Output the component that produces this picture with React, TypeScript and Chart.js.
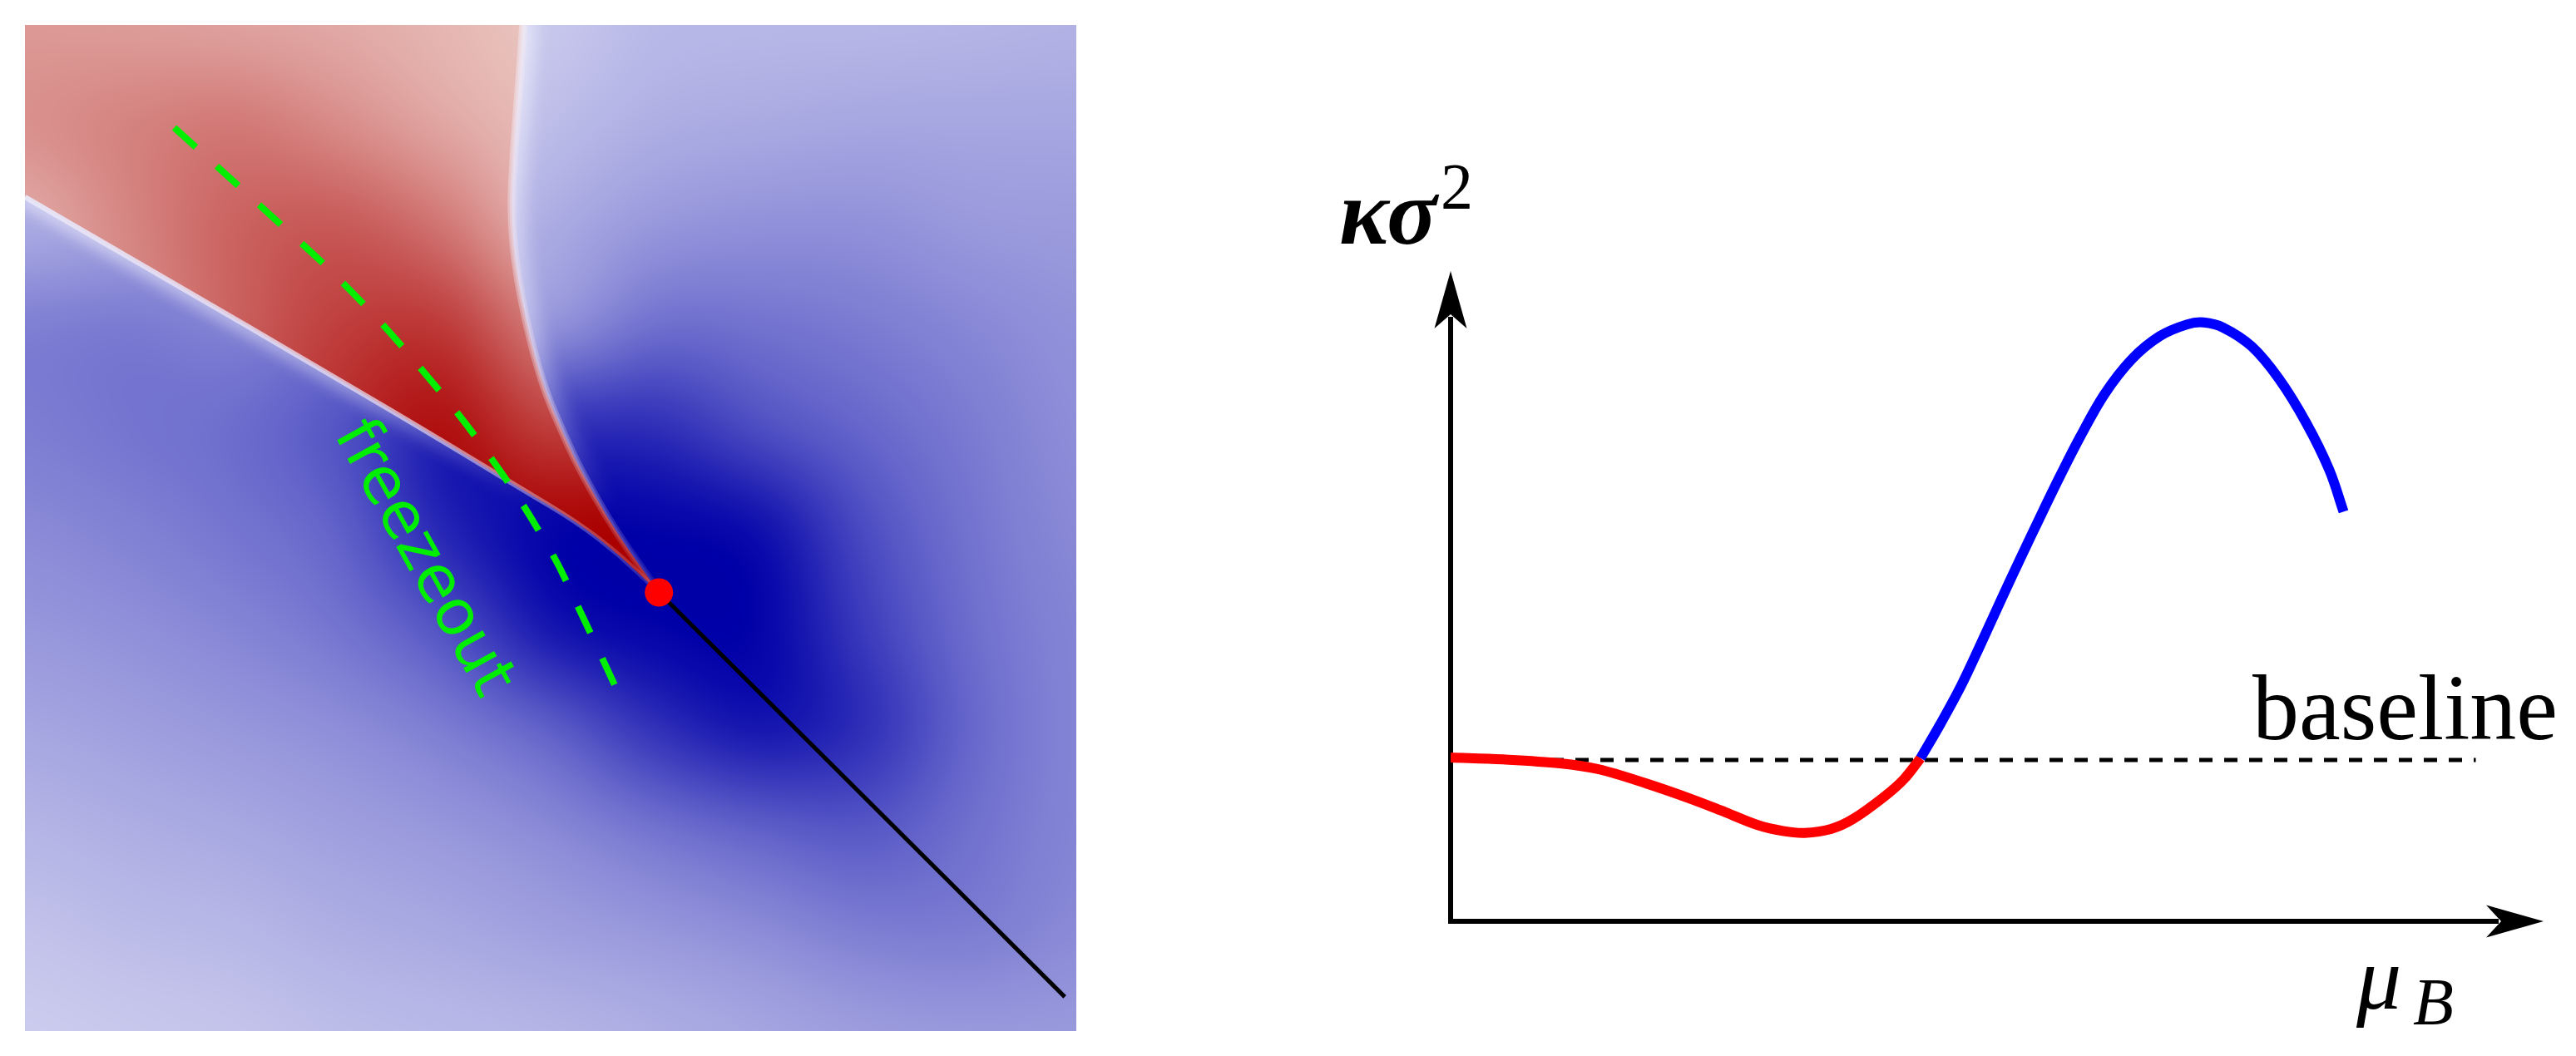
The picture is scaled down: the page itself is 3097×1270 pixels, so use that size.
import React, { useEffect, useRef } from "react";
import { Chart, registerables } from "chart.js";

Chart.register(...registerables);

// ---------------- Left panel: map around the critical point ----------------
// grid nodes (percent of the map width / height, v measured from the top)
const GRID_U = [0, 10, 20, 30, 40, 50, 60, 70, 80, 90, 100];
const GRID_V = [0, 10, 20, 30, 40, 50, 60, 70, 80, 90, 100];

// blue intensity (0 = pale lavender, 1 = deep blue), rows = GRID_V, cols = GRID_U
const BLUE_LEVEL = [
  [0.2, 0.2, 0.15, 0.1, 0.05, 0.07, 0.14, 0.15, 0.15, 0.16, 0.17],
  [0.2, 0.2, 0.15, 0.1, 0.05, 0.12, 0.19, 0.21, 0.23, 0.23, 0.23],
  [0.2, 0.24, 0.25, 0.2, 0.1, 0.2, 0.3, 0.33, 0.33, 0.29, 0.28],
  [0.42, 0.44, 0.4, 0.45, 0.3, 0.3, 0.49, 0.47, 0.43, 0.37, 0.32],
  [0.42, 0.46, 0.5, 0.62, 0.88, 0.8, 0.8, 0.63, 0.52, 0.43, 0.34],
  [0.36, 0.4, 0.46, 0.55, 0.85, 1.0, 1.0, 0.95, 0.64, 0.46, 0.36],
  [0.3, 0.33, 0.38, 0.46, 0.62, 0.92, 1.0, 1.0, 0.72, 0.49, 0.38],
  [0.23, 0.26, 0.3, 0.34, 0.42, 0.55, 0.78, 0.92, 0.8, 0.52, 0.38],
  [0.16, 0.19, 0.22, 0.26, 0.3, 0.36, 0.46, 0.55, 0.6, 0.48, 0.38],
  [0.1, 0.13, 0.15, 0.19, 0.22, 0.26, 0.3, 0.35, 0.42, 0.43, 0.36],
  [0.05, 0.07, 0.09, 0.12, 0.14, 0.16, 0.19, 0.23, 0.27, 0.29, 0.29],
];

// red intensity inside the wedge (0 = pale pink, 1 = deep red)
const RED_LEVEL = [
  [0.29, 0.27, 0.24, 0.21, 0.15, 0.08, 0.08, 0.08, 0.08, 0.08, 0.08],
  [0.33, 0.4, 0.45, 0.35, 0.22, 0.12, 0.12, 0.12, 0.12, 0.12, 0.12],
  [0.2, 0.38, 0.55, 0.6, 0.45, 0.15, 0.15, 0.15, 0.15, 0.15, 0.15],
  [0.25, 0.35, 0.55, 0.72, 0.75, 0.4, 0.4, 0.4, 0.4, 0.4, 0.4],
  [0.3, 0.4, 0.6, 0.8, 0.95, 0.7, 0.8, 0.8, 0.8, 0.8, 0.8],
  [0.35, 0.45, 0.65, 0.85, 0.98, 1.0, 1.0, 1.0, 1.0, 1.0, 1.0],
  [1, 1, 1, 1, 1, 1, 1, 1, 1, 1, 1],
  [1, 1, 1, 1, 1, 1, 1, 1, 1, 1, 1],
  [1, 1, 1, 1, 1, 1, 1, 1, 1, 1, 1],
  [1, 1, 1, 1, 1, 1, 1, 1, 1, 1, 1],
  [1, 1, 1, 1, 1, 1, 1, 1, 1, 1, 1],
];

// lower edge of the red wedge, from the left border to the critical point
const WEDGE_LOWER = [
  { x: 0, y: 17.1 },
  { x: 13.4, y: 25.2 },
  { x: 29.3, y: 34.9 },
  { x: 39.8, y: 41.4 },
  { x: 47.2, y: 46.1 },
  { x: 52.5, y: 49.4 },
  { x: 56.6, y: 52.7 },
  { x: 60.3, y: 56.4 },
];
// upper edge of the red wedge, from the top border to the critical point
const WEDGE_UPPER = [
  { x: 47.4, y: 0 },
  { x: 47.1, y: 4.9 },
  { x: 46.5, y: 12.3 },
  { x: 46.2, y: 19.7 },
  { x: 47.1, y: 27.0 },
  { x: 49.1, y: 35.5 },
  { x: 51.4, y: 41.1 },
  { x: 53.0, y: 44.6 },
  { x: 56.2, y: 50.4 },
  { x: 60.3, y: 56.4 },
];

const CRITICAL_POINT = [{ x: 60.3, y: 56.4 }];
const CROSSOVER_LINE = [
  { x: 60.3, y: 56.4 },
  { x: 98.9, y: 96.6 },
];
const FREEZEOUT_LINE = [
  { x: 14.2, y: 10.2 },
  { x: 22.3, y: 17.9 },
  { x: 30.3, y: 25.7 },
  { x: 37.7, y: 34.2 },
  { x: 44.5, y: 43.3 },
  { x: 49.9, y: 52.1 },
  { x: 53.0, y: 58.7 },
  { x: 56.4, y: 66.3 },
];
const FREEZEOUT_LABEL = "freezeout";
const FREEZEOUT_LABEL_AT = { x: 37.9, y: 53.0, angle: 61 };

// ---------------- Right panel: kappa sigma^2 vs mu_B ----------------
const RED_BRANCH = [
  { x: 0, y: 2.52 },
  { x: 0.48, y: 2.49 },
  { x: 1.0, y: 2.43 },
  { x: 1.35, y: 2.34 },
  { x: 1.79, y: 2.12 },
  { x: 2.22, y: 1.87 },
  { x: 2.51, y: 1.68 },
  { x: 2.81, y: 1.48 },
  { x: 3.04, y: 1.39 },
  { x: 3.24, y: 1.36 },
  { x: 3.48, y: 1.42 },
  { x: 3.68, y: 1.57 },
  { x: 3.97, y: 1.92 },
  { x: 4.15, y: 2.19 },
  { x: 4.3, y: 2.51 },
];
const BLUE_BRANCH = [
  { x: 4.3, y: 2.51 },
  { x: 4.48, y: 3.03 },
  { x: 4.67, y: 3.62 },
  { x: 4.85, y: 4.26 },
  { x: 5.03, y: 4.92 },
  { x: 5.21, y: 5.57 },
  { x: 5.4, y: 6.24 },
  { x: 5.58, y: 6.86 },
  { x: 5.76, y: 7.45 },
  { x: 5.98, y: 8.1 },
  { x: 6.23, y: 8.64 },
  { x: 6.49, y: 9.0 },
  { x: 6.74, y: 9.18 },
  { x: 6.89, y: 9.21 },
  { x: 7.07, y: 9.13 },
  { x: 7.33, y: 8.84 },
  { x: 7.58, y: 8.34 },
  { x: 7.83, y: 7.66 },
  { x: 8.04, y: 6.94 },
  { x: 8.17, y: 6.3 },
];
const BASELINE = [
  { x: 0, y: 2.48 },
  { x: 9.38, y: 2.48 },
];
const BASELINE_LABEL = "baseline";

// ---------------- helpers ----------------
const BLUE_LIGHT = [215, 215, 242];
const BLUE_DARK = [0, 0, 168];
const RED_LIGHT = [240, 215, 210];
const RED_DARK = [170, 0, 0];

function mix(a: number[], b: number[], t: number) {
  return a.map((v, k) => Math.round(v + (b[k] - v) * t));
}

function gridImage(levels: number[][], lo: number[], hi: number[]) {
  const m = levels.length;
  const n = levels[0].length;
  const c = document.createElement("canvas");
  c.width = n;
  c.height = m;
  const g = c.getContext("2d")!;
  const img = g.createImageData(n, m);
  for (let j = 0; j < m; j++) {
    for (let i = 0; i < n; i++) {
      const col = mix(lo, hi, levels[j][i]);
      const k = (j * n + i) * 4;
      img.data[k] = col[0];
      img.data[k + 1] = col[1];
      img.data[k + 2] = col[2];
      img.data[k + 3] = 255;
    }
  }
  g.putImageData(img, 0, 0);
  return c;
}

function smoothTrace(ctx: CanvasRenderingContext2D, pts: { x: number; y: number }[], start: boolean) {
  if (start) ctx.moveTo(pts[0].x, pts[0].y);
  else ctx.lineTo(pts[0].x, pts[0].y);
  for (let i = 1; i < pts.length - 1; i++) {
    const mx = (pts[i].x + pts[i + 1].x) / 2;
    const my = (pts[i].y + pts[i + 1].y) / 2;
    ctx.quadraticCurveTo(pts[i].x, pts[i].y, mx, my);
  }
  const last = pts[pts.length - 1];
  ctx.lineTo(last.x, last.y);
}

function edgeGradient(ctx: CanvasRenderingContext2D, a: { x: number; y: number }, b: { x: number; y: number }, stops: [number, string][]) {
  const g = ctx.createLinearGradient(a.x, a.y, b.x, b.y);
  stops.forEach(([o, c]) => g.addColorStop(o, c));
  return g;
}

const heatmapPlugin = {
  id: "heatmap",
  beforeDatasetsDraw(chart: any) {
    const { ctx, chartArea } = chart;
    const xs = chart.scales.x;
    const ys = chart.scales.y;
    const toPx = (p: { x: number; y: number }) => ({ x: xs.getPixelForValue(p.x), y: ys.getPixelForValue(p.y) });
    const nU = GRID_U.length;
    const nV = GRID_V.length;
    const x0 = xs.getPixelForValue(GRID_U[0]);
    const x1 = xs.getPixelForValue(GRID_U[nU - 1]);
    const y0 = ys.getPixelForValue(GRID_V[0]);
    const y1 = ys.getPixelForValue(GRID_V[nV - 1]);
    const dx = (x1 - x0) / (nU - 1);
    const dy = (y1 - y0) / (nV - 1);

    ctx.save();
    ctx.beginPath();
    ctx.rect(chartArea.left, chartArea.top, chartArea.width, chartArea.height);
    ctx.clip();
    ctx.imageSmoothingEnabled = true;
    (ctx as any).imageSmoothingQuality = "high";
    ctx.drawImage(gridImage(BLUE_LEVEL, BLUE_LIGHT, BLUE_DARK), x0 - dx / 2, y0 - dy / 2, dx * nU, dy * nV);

    const upper = WEDGE_UPPER.map(toPx);
    const lower = WEDGE_LOWER.map(toPx);
    const lowerRev = [...lower].reverse();
    const tip = lower[lower.length - 1];

    // soft pale halo on the blue side of the sign change
    ctx.save();
    ctx.lineCap = "round";
    ctx.filter = "blur(9px)";
    ctx.beginPath();
    smoothTrace(ctx, lower, true);
    ctx.strokeStyle = edgeGradient(ctx, lower[0], tip, [
      [0, "rgba(225,225,248,0.8)"],
      [0.5, "rgba(225,225,248,0.45)"],
      [0.8, "rgba(225,225,248,0)"],
    ]);
    ctx.lineWidth = 22;
    ctx.stroke();
    ctx.filter = "blur(11px)";
    ctx.beginPath();
    smoothTrace(ctx, upper, true);
    ctx.strokeStyle = edgeGradient(ctx, upper[0], tip, [
      [0, "rgba(235,235,250,0.95)"],
      [0.5, "rgba(228,228,250,0.55)"],
      [0.85, "rgba(228,228,250,0)"],
    ]);
    ctx.lineWidth = 26;
    ctx.stroke();
    ctx.restore();

    // the red wedge
    ctx.save();
    ctx.beginPath();
    const corner = toPx({ x: 0, y: 0 });
    ctx.moveTo(corner.x, corner.y);
    smoothTrace(ctx, upper, false);
    smoothTrace(ctx, lowerRev, false);
    ctx.closePath();
    ctx.clip();
    ctx.drawImage(gridImage(RED_LEVEL, RED_LIGHT, RED_DARK), x0 - dx / 2, y0 - dy / 2, dx * nU, dy * nV);
    ctx.restore();

    // pale seams along the sign change
    ctx.lineCap = "butt";
    ctx.beginPath();
    smoothTrace(ctx, lower, true);
    ctx.strokeStyle = edgeGradient(ctx, lower[0], tip, [
      [0, "rgba(232,230,248,0.95)"],
      [0.6, "rgba(232,220,240,0.7)"],
      [1, "rgba(230,200,225,0.15)"],
    ]);
    ctx.lineWidth = 6;
    ctx.stroke();

    ctx.beginPath();
    smoothTrace(ctx, upper, true);
    ctx.strokeStyle = edgeGradient(ctx, upper[0], tip, [
      [0, "rgba(240,232,242,0.55)"],
      [0.6, "rgba(232,215,232,0.35)"],
      [1, "rgba(230,200,225,0.1)"],
    ]);
    ctx.lineWidth = 10;
    ctx.stroke();
    ctx.lineWidth = 5;
    ctx.stroke();
    ctx.restore();
  },
  afterDatasetsDraw(chart: any) {
    const { ctx } = chart;
    const xs = chart.scales.x;
    const ys = chart.scales.y;
    ctx.save();
    ctx.translate(xs.getPixelForValue(FREEZEOUT_LABEL_AT.x), ys.getPixelForValue(FREEZEOUT_LABEL_AT.y));
    ctx.rotate((FREEZEOUT_LABEL_AT.angle * Math.PI) / 180);
    ctx.font = '77px "DejaVu Sans"';
    ctx.fillStyle = "#00ee00";
    ctx.textAlign = "center";
    ctx.textBaseline = "alphabetic";
    ctx.fillText(FREEZEOUT_LABEL, 0, 22);
    ctx.restore();
  },
};

const axesPlugin = {
  id: "arrowAxes",
  beforeDatasetsDraw(chart: any) {
    const { ctx } = chart;
    const xs = chart.scales.x;
    const ys = chart.scales.y;
    const ox = xs.getPixelForValue(0);
    const oy = ys.getPixelForValue(0);
    const yTip = ys.getPixelForValue(10);
    const xTip = xs.getPixelForValue(10);
    ctx.save();
    ctx.strokeStyle = "#000";
    ctx.fillStyle = "#000";
    ctx.lineWidth = 6;
    ctx.lineCap = "butt";
    ctx.beginPath();
    ctx.moveTo(ox, oy + 3);
    ctx.lineTo(ox, yTip + 55);
    ctx.moveTo(ox - 3, oy);
    ctx.lineTo(xTip - 54, oy);
    ctx.stroke();
    // arrow heads
    ctx.beginPath();
    ctx.moveTo(ox, yTip);
    ctx.lineTo(ox + 19.5, yTip + 69);
    ctx.lineTo(ox, yTip + 52);
    ctx.lineTo(ox - 19.5, yTip + 69);
    ctx.closePath();
    ctx.fill();
    ctx.beginPath();
    ctx.moveTo(xTip, oy);
    ctx.lineTo(xTip - 69, oy - 19.5);
    ctx.lineTo(xTip - 51, oy);
    ctx.lineTo(xTip - 69, oy + 19.5);
    ctx.closePath();
    ctx.fill();
    ctx.restore();
  },
  afterDatasetsDraw(chart: any) {
    const { ctx } = chart;
    const xs = chart.scales.x;
    const ys = chart.scales.y;
    const ox = xs.getPixelForValue(0);
    const oy = ys.getPixelForValue(0);
    const yTip = ys.getPixelForValue(10);
    const xTip = xs.getPixelForValue(10);
    const yBase = ys.getPixelForValue(BASELINE[0].y);
    ctx.save();
    ctx.fillStyle = "#000";
    ctx.textAlign = "left";
    ctx.textBaseline = "alphabetic";
    ctx.font = 'bold italic 112px "Liberation Serif"';
    ctx.fillText("κσ", ox - 134, yTip - 33);
    ctx.font = '78px "Liberation Serif"';
    ctx.fillText("2", ox - 12, yTip - 76);
    ctx.font = 'italic 108px "Liberation Serif"';
    ctx.fillText("μ", xTip - 225, oy + 105);
    ctx.font = 'italic 80px "Liberation Serif"';
    ctx.fillText("B", xTip - 157, oy + 124);
    ctx.font = '112px "Liberation Serif"';
    ctx.fillText(BASELINE_LABEL, xTip - 350, yBase - 25);
    ctx.restore();
  },
};

function LeftMap() {
  const ref = useRef<HTMLCanvasElement>(null);
  useEffect(() => {
    const chart = new Chart(ref.current!, {
      type: "line",
      data: {
        datasets: [
          {
            type: "scatter",
            data: CRITICAL_POINT,
            pointRadius: 17,
            pointHoverRadius: 17,
            backgroundColor: "#ff0000",
            borderWidth: 0,
            order: 0,
          } as any,
          {
            data: CROSSOVER_LINE,
            borderColor: "#000000",
            borderWidth: 5,
            pointRadius: 0,
            order: 1,
          },
          {
            data: FREEZEOUT_LINE,
            borderColor: "#00ee00",
            borderWidth: 8,
            borderDash: [35, 34],
            pointRadius: 0,
            tension: 0.4,
            order: 2,
          },
        ],
      },
      options: {
        animation: false,
        responsive: false,
        events: [],
        layout: { padding: 0, autoPadding: false },
        plugins: { legend: { display: false }, tooltip: { enabled: false } },
        scales: {
          x: { type: "linear", min: 0, max: 100, display: false },
          y: { type: "linear", min: 0, max: 100, reverse: true, display: false },
        },
      },
      plugins: [heatmapPlugin],
    });
    return () => chart.destroy();
  }, []);
  return <canvas ref={ref} width={1264} height={1210} style={{ position: "absolute", left: 30, top: 30, width: 1264, height: 1210 }} />;
}

function RightCurve() {
  const ref = useRef<HTMLCanvasElement>(null);
  useEffect(() => {
    const chart = new Chart(ref.current!, {
      type: "line",
      data: {
        datasets: [
          {
            data: BLUE_BRANCH,
            borderColor: "#0000ff",
            borderWidth: 12,
            pointRadius: 0,
            tension: 0.35,
            borderCapStyle: "butt",
            order: 0,
          },
          {
            data: RED_BRANCH,
            borderColor: "#ff0000",
            borderWidth: 12,
            pointRadius: 0,
            tension: 0.35,
            borderCapStyle: "butt",
            order: 1,
          },
          {
            data: BASELINE,
            borderColor: "#000000",
            borderWidth: 5,
            borderDash: [16, 14],
            pointRadius: 0,
            order: 2,
          },
        ],
      },
      options: {
        animation: false,
        responsive: false,
        events: [],
        layout: { padding: { left: 164, right: 39, top: 176, bottom: 162 }, autoPadding: false },
        plugins: { legend: { display: false }, tooltip: { enabled: false } },
        scales: {
          x: { type: "linear", min: 0, max: 10, display: false },
          y: { type: "linear", min: 0, max: 10, display: false },
        },
      },
      plugins: [axesPlugin],
    });
    return () => chart.destroy();
  }, []);
  return <canvas ref={ref} width={1517} height={1120} style={{ position: "absolute", left: 1580, top: 150, width: 1517, height: 1120 }} />;
}

export default function App() {
  return (
    <div style={{ position: "absolute", left: 0, top: 0, width: 3097, height: 1270, background: "#ffffff", overflow: "hidden" }}>
      <LeftMap />
      <RightCurve />
    </div>
  );
}
